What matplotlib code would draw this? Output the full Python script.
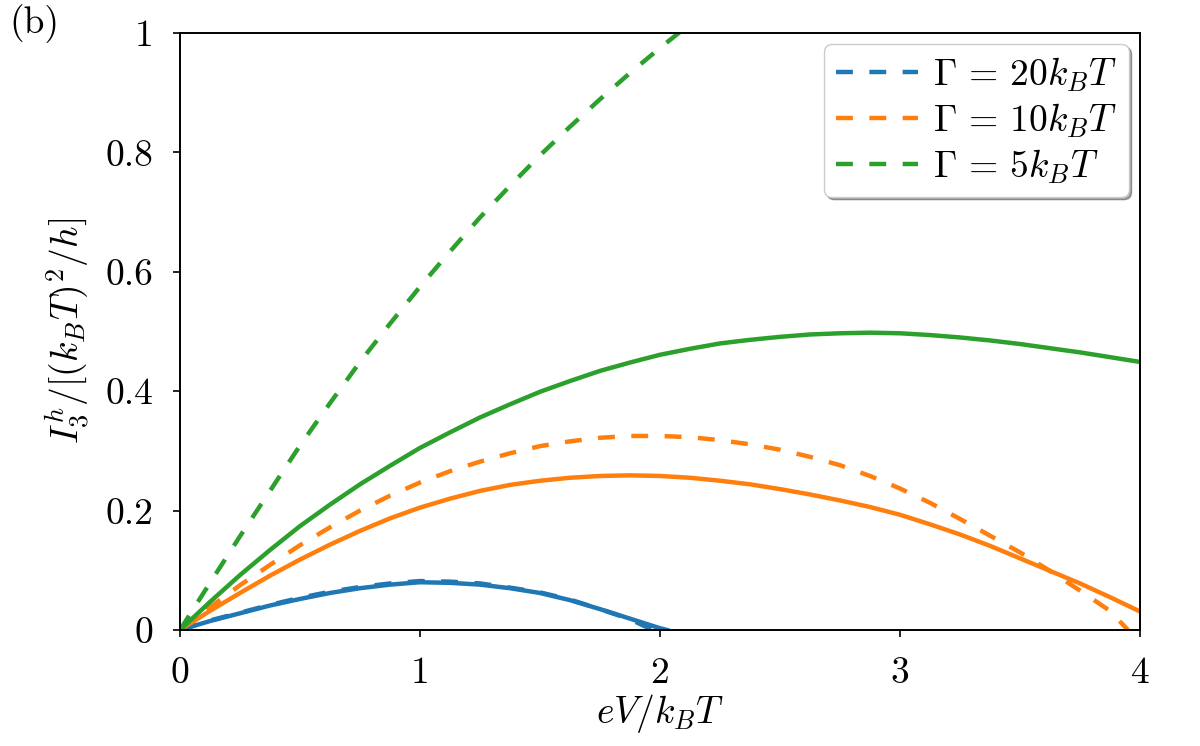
import numpy as np
import matplotlib
matplotlib.use('Agg')
from matplotlib import pyplot as plt

plt.rcParams['mathtext.fontset'] = 'cm'
plt.rcParams['font.family'] = 'serif'
plt.rcParams['font.serif'] = ['cmr10']
plt.rcParams['axes.formatter.use_mathtext'] = True

# values (step 0.125 in eV/kBT)
x_blue = [0, 0.125, 0.25, 0.375, 0.5, 0.625, 0.75, 0.875, 1.0, 1.125, 1.25, 1.375,
          1.5, 1.625, 1.75, 1.875, 2.0, 2.03]
y_blue = [0, 0.015, 0.028, 0.041, 0.052, 0.062, 0.070, 0.076, 0.080, 0.079, 0.076, 0.070,
          0.062, 0.050, 0.035, 0.019, 0.003, 0.0]
x_blue_d = [0, 0.125, 0.25, 0.375, 0.5, 0.625, 0.75, 0.875, 1.0, 1.125, 1.25, 1.375,
            1.5, 1.625, 1.75, 1.875, 1.97]
y_blue_d = [0, 0.016, 0.029, 0.042, 0.054, 0.064, 0.072, 0.078, 0.082, 0.081, 0.078, 0.071,
            0.063, 0.051, 0.035, 0.018, 0.0]

x_q = [0, 0.125, 0.25, 0.375, 0.5, 0.625, 0.75, 0.875, 1.0, 1.125, 1.25, 1.375, 1.5,
       1.625, 1.75, 1.875, 2.0, 2.125, 2.25, 2.375, 2.5, 2.625, 2.75, 2.875, 3.0,
       3.125, 3.25, 3.375, 3.5, 3.625, 3.75, 3.875, 4.0]
y_orange = [0, 0.032, 0.062, 0.091, 0.118, 0.143, 0.166, 0.187, 0.205, 0.220, 0.233, 0.243,
            0.250, 0.255, 0.258, 0.259, 0.258, 0.255, 0.250, 0.244, 0.236, 0.227, 0.217,
            0.206, 0.193, 0.177, 0.160, 0.141, 0.120, 0.099, 0.078, 0.055, 0.031]
y_green = [0, 0.047, 0.092, 0.134, 0.174, 0.210, 0.244, 0.275, 0.305, 0.331, 0.356, 0.378,
           0.399, 0.417, 0.434, 0.448, 0.461, 0.471, 0.480, 0.486, 0.491, 0.495, 0.497,
           0.498, 0.497, 0.494, 0.490, 0.485, 0.479, 0.472, 0.465, 0.457, 0.449]

x_orange_d = [0, 0.125, 0.25, 0.375, 0.5, 0.625, 0.75, 0.875, 1.0, 1.125, 1.25, 1.375, 1.5,
              1.625, 1.75, 1.875, 2.0, 2.125, 2.25, 2.375, 2.5, 2.625, 2.75, 2.875, 3.0,
              3.125, 3.25, 3.375, 3.5, 3.625, 3.75, 3.875, 3.95]
y_orange_d = [0, 0.038, 0.075, 0.109, 0.142, 0.172, 0.200, 0.225, 0.247, 0.266, 0.282, 0.296,
              0.308, 0.316, 0.322, 0.325, 0.325, 0.323, 0.318, 0.311, 0.302, 0.290, 0.276,
              0.258, 0.237, 0.213, 0.186, 0.158, 0.130, 0.099, 0.066, 0.032, 0.0]

x_green_d = [0, 0.125, 0.25, 0.375, 0.5, 0.625, 0.75, 0.875, 1.0, 1.125, 1.25, 1.375,
             1.5, 1.625, 1.75, 1.875, 2.0, 2.125, 2.25]
y_green_d = [0, 0.079, 0.157, 0.233, 0.309, 0.380, 0.449, 0.513, 0.575, 0.634, 0.691, 0.744,
             0.795, 0.843, 0.889, 0.933, 0.975, 1.015, 1.055]

labels = [r'$\Gamma\,=\,20k_BT$', r'$\Gamma\,=\,10k_BT$', r'$\Gamma\,=\,5k_BT$']
xticks = [0, 1, 2, 3, 4]
yticks = [0, 0.2, 0.4, 0.6, 0.8, 1]
ytick_labels = ['0', '0.2', '0.4', '0.6', '0.8', '1']

fig = plt.figure(figsize=(12, 7.46), dpi=100)
ax = fig.add_axes([0.15, 0.1555, 0.80, 0.8003])

lw = 3.2
dash = (0, (3.8, 3.7))
ax.plot(x_blue, y_blue, color='tab:blue', lw=lw)
ax.plot(x_blue_d, y_blue_d, color='tab:blue', lw=lw, ls=dash, label=labels[0])
ax.plot(x_q, y_orange, color='tab:orange', lw=lw)
ax.plot(x_orange_d, y_orange_d, color='tab:orange', lw=lw, ls=dash, label=labels[1])
ax.plot(x_q, y_green, color='tab:green', lw=lw)
ax.plot(x_green_d, y_green_d, color='tab:green', lw=lw, ls=dash, label=labels[2])

ax.set_xlim(0, 4)
ax.set_ylim(0, 1)
ax.set_xticks(xticks)
ax.set_xticklabels([str(t) for t in xticks])
ax.set_yticks(yticks)
ax.set_yticklabels(ytick_labels)
ax.tick_params(direction='out', length=5, width=1.2, labelsize=27, pad=14)
for s in ax.spines.values():
    s.set_linewidth(1.4)

ax.set_xlabel(r'$eV/k_BT$', fontsize=27, labelpad=2)
ax.set_ylabel(r'$I_3^h/[(k_BT)^2/h]$', fontsize=27, labelpad=10)

ax.legend(loc='upper right', fontsize=27, shadow=True, fancybox=True,
          handlelength=2.2, labelspacing=0.2, borderaxespad=0.3,
          borderpad=0.3, handletextpad=0.4)

fig.text(0.008, 0.955, '(b)', fontsize=27)

fig.savefig('out.png', dpi=100)
